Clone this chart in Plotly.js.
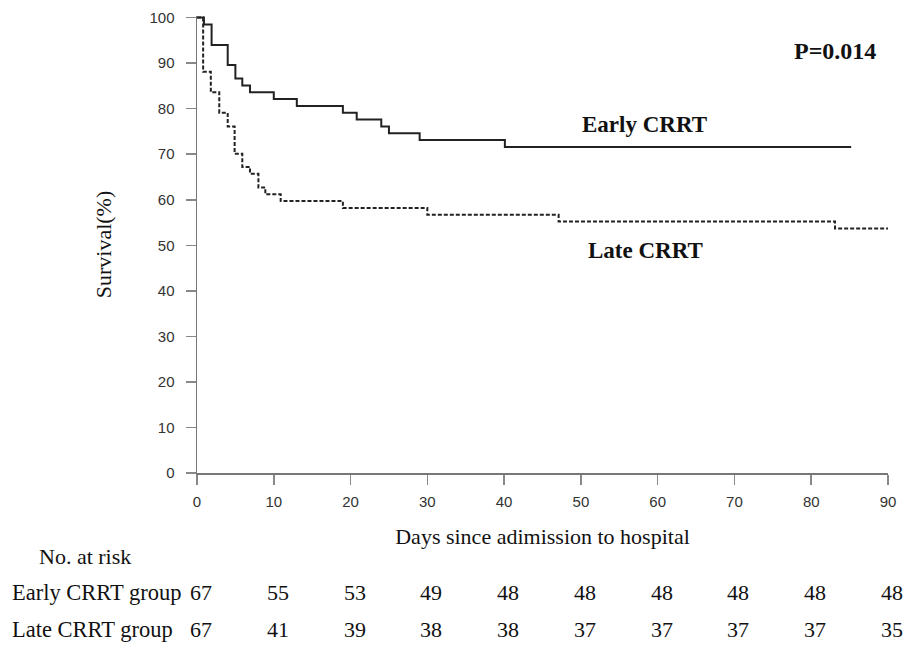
<!DOCTYPE html>
<html>
<head>
<meta charset="utf-8">
<script src="https://cdn.plot.ly/plotly-3.0.1.min.js"></script>
<style>html,body{margin:0;padding:0;background:#fff;}#chart{width:904px;height:647px;}</style>
</head>
<body>
<div id="chart"></div>
<script>
// Kaplan-Meier step data (days, survival %)
const earlyDays = [0, 0.9, 1.9, 4.0, 5.0, 5.9, 6.9, 10.0, 13.0, 19.0, 20.8, 24.0, 25.0, 29.0, 40.1, 85.2];
const earlySurv = [100, 98.5, 94.0, 89.6, 86.6, 85.1, 83.6, 82.1, 80.6, 79.1, 77.6, 76.1, 74.6, 73.1, 71.6, 71.6];
const lateDays = [0, 0.8, 1.8, 2.9, 4.0, 4.9, 5.9, 6.9, 8.0, 8.9, 10.9, 19.0, 30.0, 47.1, 83.1, 90];
const lateSurv = [100, 88.1, 83.6, 79.1, 76.1, 70.1, 67.2, 65.7, 62.7, 61.2, 59.7, 58.2, 56.7, 55.2, 53.7, 53.7];

// Number at risk table
const riskDays = [0, 10, 20, 30, 40, 50, 60, 70, 80, 90];
const riskEarly = [67, 55, 53, 49, 48, 48, 48, 48, 48, 48];
const riskLate = [67, 41, 39, 38, 38, 37, 37, 37, 37, 35];
const groupLabels = ["Early CRRT group", "Late CRRT group"];

const serif = "Liberation Serif, Times New Roman, serif";
const sans = "Liberation Sans, Arial, sans-serif";

const traces = [
  {x: earlyDays, y: earlySurv, mode: "lines", line: {shape: "hv", color: "#222", width: 2}, name: "Early CRRT", showlegend: false, hoverinfo: "x+y"},
  {x: lateDays, y: lateSurv, mode: "lines", line: {shape: "hv", color: "#222", width: 2, dash: "4px,2px"}, name: "Late CRRT", showlegend: false, hoverinfo: "x+y"}
];

const plotTop = 16, plotBottom = 473, plotH = plotBottom - plotTop;
const plotLeft = 197, plotW = 691;
function py(pix){ return (plotBottom - pix) / plotH; }
function px(pix){ return (pix - plotLeft) / plotW; }

function note(text, x, y, size, xanchor, xref){
  return {text: text, xref: xref || "paper", yref: "paper", x: x, y: y, xanchor: xanchor || "center", yanchor: "middle",
          showarrow: false, font: {family: serif, size: size, color: "#111"}};
}

const rowEarly = 592, rowLate = 629;
const annotations = [
  note("<b>P=0.014</b>", px(835), py(51), 24),
  note("<b>Early CRRT</b>", px(644), py(124), 23),
  note("<b>Late CRRT</b>", px(645), py(250), 23),
  note("No. at risk", px(37), py(556), 22, "left"),
  note(groupLabels[0], px(10), py(rowEarly), 22.5, "left"),
  note(groupLabels[1], px(10), py(rowLate), 22.5, "left")
];
riskDays.forEach((d, i) => {
  const a = note(String(riskEarly[i]), d, py(rowEarly), 22, "center", "x"); a.xshift = 4; annotations.push(a);
  const b = note(String(riskLate[i]), d, py(rowLate), 22, "center", "x"); b.xshift = 4; annotations.push(b);
});

const layout = {
  width: 904, height: 647,
  margin: {l: plotLeft, r: 904 - plotLeft - plotW, t: plotTop, b: 647 - plotBottom},
  paper_bgcolor: "#fff", plot_bgcolor: "#fff",
  showlegend: false,
  xaxis: {
    range: [0, 90], tickvals: riskDays, ticks: "outside", ticklen: 10, tickcolor: "#888", tickwidth: 1.5,
    showline: true, linecolor: "#777", linewidth: 1.5, showgrid: false, zeroline: false,
    tickfont: {family: sans, size: 15, color: "#333"}, ticklabelstandoff: 4,
    title: {text: "Days since adimission to hospital", font: {family: serif, size: 22, color: "#111"}, standoff: 20}
  },
  yaxis: {
    range: [0, 100.35], tickvals: [0,10,20,30,40,50,60,70,80,90,100], ticks: "outside", ticklen: 10, tickcolor: "#888", tickwidth: 1.5,
    showline: true, linecolor: "#777", linewidth: 1.5, showgrid: false, zeroline: false,
    tickfont: {family: sans, size: 15, color: "#333"}, ticklabelstandoff: 8,
    title: {text: "Survival(%)", font: {family: serif, size: 22, color: "#111"}, standoff: 32}
  },
  annotations: annotations
};

Plotly.newPlot("chart", traces, layout, {displayModeBar: false, staticPlot: true});
</script>
</body>
</html>
